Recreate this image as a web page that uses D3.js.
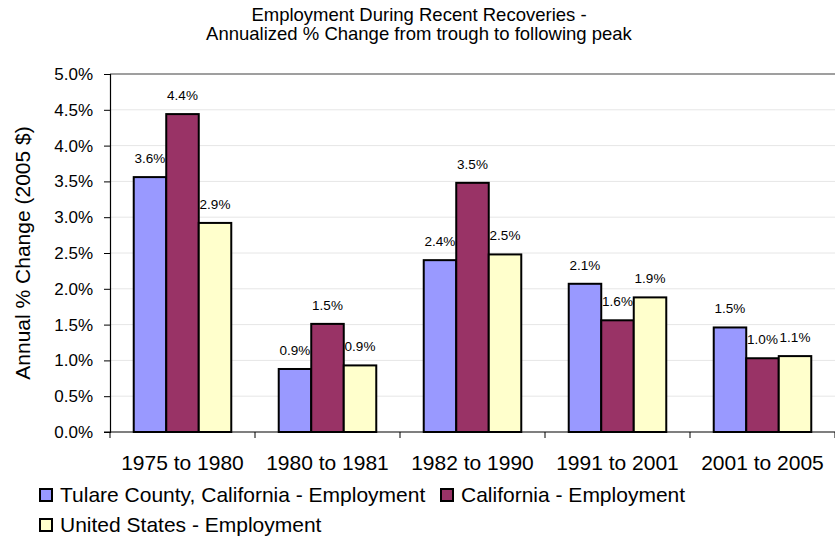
<!DOCTYPE html>
<html><head><meta charset="utf-8">
<script src="https://cdn.jsdelivr.net/npm/d3@7"></script>
<style>body{margin:0;background:#fff}svg{display:block;font-family:"Liberation Sans",Arial,sans-serif}</style>
</head><body>
<svg id="c" width="835" height="542"></svg>
<script>
const categories = ["1975 to 1980","1980 to 1981","1982 to 1990","1991 to 2001","2001 to 2005"];
const seriesNames = ["Tulare County, California - Employment","California - Employment","United States - Employment"];
const tulare = [3.56, 0.88, 2.40, 2.07, 1.46];
const california = [4.44, 1.51, 3.48, 1.56, 1.03];
const unitedStates = [2.92, 0.93, 2.48, 1.88, 1.06];
const seriesColors = ["#9999FF","#993366","#FFFFCC"];
const yTicks = [0,0.5,1,1.5,2,2.5,3,3.5,4,4.5,5];
const titleLines = ["Employment During Recent Recoveries -","Annualized % Change from trough to following peak"];
const yLabel = "Annual % Change (2005 $)";

const series = [tulare, california, unitedStates];
const svg = d3.select("#c");
const FF = "Liberation Sans, Arial, sans-serif";
const L = 110, R = 835, T = 74, B = 432;

const x0 = d3.scaleBand().domain(categories).range([L, R]).padding(0);
const x1 = d3.scaleBand().domain(d3.range(series.length)).range([0, x0.bandwidth()]).paddingInner(0).paddingOuter(0.73);
const y = d3.scaleLinear().domain([0,5]).range([B, T]);

// gridlines
svg.append("g").selectAll("line").data(yTicks.filter(d=>d>0)).join("line")
  .attr("x1", L).attr("x2", R).attr("y1", d=>y(d)).attr("y2", d=>y(d))
  .attr("stroke", d=> d===5 ? "#7f7f7f" : "#e6e6e6").attr("stroke-width", d=> d===5?1.5:1);

// y axis
const yAxis = d3.axisLeft(y).tickValues(yTicks).tickFormat(d=>d.toFixed(1)+"%").tickSizeOuter(0).tickSize(6).tickPadding(11);
const gy = svg.append("g").attr("transform",`translate(${L},0)`).call(yAxis);
gy.attr("font-size",null).attr("font-family",null);
gy.select(".domain").attr("stroke","#000").attr("stroke-width",1.2);
gy.selectAll(".tick line").attr("stroke","#000");
gy.selectAll("text").style("font-size","17px").attr("fill","#000").style("font-family",FF);

// bars
const groups = svg.append("g").selectAll("g").data(categories).join("g")
  .attr("transform", d=>`translate(${x0(d)},0)`);
groups.selectAll("rect").data((c,i)=>series.map((s,j)=>({j, v:s[i]}))).join("rect")
  .attr("x", d=>x1(d.j)).attr("width", x1.bandwidth())
  .attr("y", d=>y(d.v)).attr("height", d=>B - y(d.v))
  .attr("fill", d=>seriesColors[d.j]).attr("stroke","#000").attr("stroke-width",2);
groups.selectAll("text").data((c,i)=>series.map((s,j)=>({j, v:s[i]}))).join("text")
  .attr("x", d=>x1(d.j)+x1.bandwidth()/2).attr("y", d=>y(d.v)-14)
  .attr("text-anchor","middle").style("font-size","13.5px").attr("fill","#000")
  .text(d=>d.v.toFixed(1)+"%");

// x axis
const xAxis = d3.axisBottom(x0).tickSize(0).tickPadding(0);
const gx = svg.append("g").attr("transform",`translate(0,${B})`).call(xAxis);
gx.attr("font-size",null).attr("font-family",null);
gx.select(".domain").remove();
gx.selectAll("text").attr("dy",null).attr("y",38).style("font-size","21px").attr("fill","#000").style("font-family",FF);
svg.append("line").attr("x1",L-6).attr("x2",R).attr("y1",B).attr("y2",B).attr("stroke","#000").attr("stroke-width",1.2);
svg.append("g").selectAll("line").data(categories.map(c=>x0(c)).concat([R])).join("line")
  .attr("x1",d=>d).attr("x2",d=>d).attr("y1",B).attr("y2",B+6).attr("stroke","#000");

// title
svg.append("g").selectAll("text").data(titleLines).join("text")
  .attr("x", 419).attr("y",(d,i)=>21+i*19).attr("text-anchor","middle").style("font-size","18.5px").attr("fill","#000")
  .text(d=>d);

// y label
svg.append("text").attr("transform",`translate(30,${(T+B)/2}) rotate(-90)`).attr("text-anchor","middle")
  .style("font-size","21px").attr("fill","#000").text(yLabel);

// legend
const legendPos = [[39,495],[440,495],[39,525]];
const lg = svg.append("g").selectAll("g").data(seriesNames).join("g")
  .attr("transform",(d,i)=>`translate(${legendPos[i][0]},${legendPos[i][1]})`);
lg.append("rect").attr("x",1).attr("y",-6).attr("width",12).attr("height",12)
  .attr("fill",(d,i)=>seriesColors[i]).attr("stroke","#000").attr("stroke-width",2);
lg.append("text").attr("x",21).attr("y",7).style("font-size","21px").attr("fill","#000").text(d=>d);
</script>
</body></html>
